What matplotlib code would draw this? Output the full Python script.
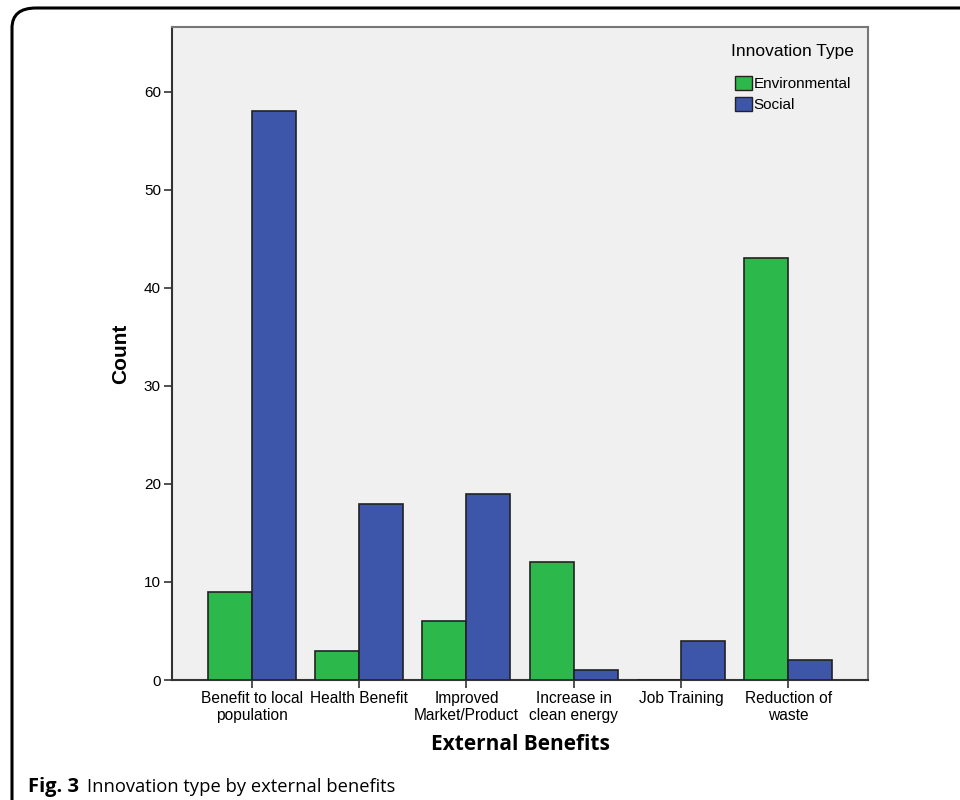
import matplotlib
matplotlib.use("Agg")
import matplotlib.pyplot as plt
import numpy as np
from matplotlib.patches import FancyBboxPatch, Patch

categories = ["Benefit to local\npopulation", "Health Benefit", "Improved\nMarket/Product",
              "Increase in\nclean energy", "Job Training", "Reduction of\nwaste"]
environmental = [9, 3, 6, 12, 0, 43]
social = [58, 18, 19, 1, 4, 2]
series_names = ["Environmental", "Social"]
yticks = [0, 10, 20, 30, 40, 50, 60]

green = "#2db84b"
blue = "#3d56aa"

fig = plt.figure(figsize=(9.6, 8), dpi=100)
fig.patch.set_facecolor("white")

# outer rounded frame
frame = FancyBboxPatch((12/960, -0.05), 1.2, 1.04,
                       boxstyle="round,pad=0,rounding_size=0.025",
                       transform=fig.transFigure, fill=False, edgecolor="black",
                       linewidth=2.2, clip_on=False)
fig.patches.append(frame)

ax = fig.add_axes([172/960, 120/800, (868-172)/960, (680-27)/800])
ax.set_facecolor("#f0f0f0")

x = np.arange(len(categories))
w = 0.41
ax.bar(x - w/2, environmental, w, color=green, edgecolor="#222222", linewidth=1.2,
       label=series_names[0], zorder=3)
ax.bar(x + w/2, social, w, color=blue, edgecolor="#222222", linewidth=1.2,
       label=series_names[1], zorder=3)

ax.set_xlim(-0.745, len(categories) - 1 + 0.745)
ax.set_ylim(0, 66.6)
ax.set_yticks(yticks)
ax.set_yticklabels([str(v) for v in yticks], fontfamily="Liberation Sans", fontsize=11)
ax.set_xticks(x)
ax.set_xticklabels(categories, fontfamily="Liberation Sans", fontsize=11.2, linespacing=1.15)
ax.tick_params(axis="both", direction="out", length=6, width=1.2, color="#333333", pad=2)

for s in ["top", "right"]:
    ax.spines[s].set_color("#777777")
    ax.spines[s].set_linewidth(1.5)
for s in ["left", "bottom"]:
    ax.spines[s].set_color("#333333")
    ax.spines[s].set_linewidth(1.5)

ax.set_ylabel("Count", fontfamily="Liberation Sans", fontweight="bold", fontsize=15, labelpad=10)
ax.set_xlabel("External Benefits", fontfamily="Open Sans", fontweight="bold", fontsize=15, labelpad=8)

handles = [Patch(facecolor=green, edgecolor="#222222", label=series_names[0]),
           Patch(facecolor=blue, edgecolor="#222222", label=series_names[1])]
leg = ax.legend(handles=handles, title="Innovation Type", loc="upper right",
                bbox_to_anchor=(1.0, 0.995), frameon=False,
                prop={"family": "Liberation Sans", "size": 11},
                handlelength=1.1, handleheight=1.1, handletextpad=0.1,
                labelspacing=0.35)
leg.get_title().set_fontfamily("Liberation Sans")
leg.get_title().set_fontsize(12.5)
leg._legend_box.sep = 12

fig.text(28/960, 1 - 787/800, "Fig. 3", fontfamily="Open Sans", fontweight="bold",
         fontsize=14.5, va="center", ha="left")
fig.text(87/960, 1 - 787/800, "Innovation type by external benefits", fontfamily="Open Sans",
         fontsize=13.2, va="center", ha="left")

fig.savefig("out.png", dpi=100)
